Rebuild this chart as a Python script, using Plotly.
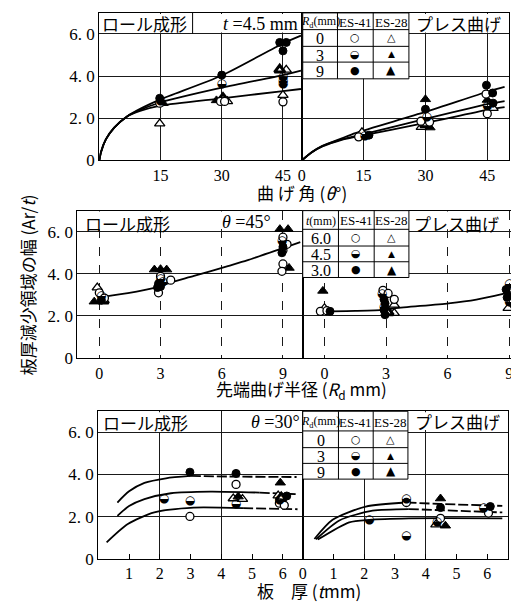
import plotly.graph_objects as go

W, H = 519, 608

# ---------------- data ----------------
# symbol codes: c0 / c3 / c9 = ES-41 (open / half / solid circle)
#               t0 / t3 / t9 = ES-28 (open / bold / solid triangle)
# rows 1 and 3: 0 / 3 / 9 = R_d (mm);  row 2: 6.0 / 4.5 / 3.0 = t (mm)

# Row 1 — bend angle θ (deg), t = 4.5 mm
roll_ang_x = [14.8, 14.8, 15.0, 15.6, 14.8, 28.7, 29.7, 30.3, 30.7, 31.4, 30.0, 30.0,
              44.2, 45.8, 45.0, 44.2, 45.8, 45.0, 45.0, 45.0, 45.0, 45.0]
roll_ang_y = [2.95, 2.72, 2.8, 2.72, 1.75, 2.85, 2.8, 2.95, 2.8, 2.8, 4.05, 3.62,
              5.6, 5.6, 5.2, 4.3, 4.3, 3.95, 3.78, 3.62, 3.1, 2.78]
roll_ang_s = ["c9", "c0", "c3", "t9", "t0", "t9", "c0", "t3", "c0", "t0", "c9", "c3",
              "c9", "c9", "c9", "t3", "t0", "c3", "c3", "c3", "t0", "c0"]

press_ang_x = [14.6, 13.8, 15.3, 16.3, 30.0, 30.0, 30.3, 28.9, 31.0, 29.0, 31.1, 30.0,
               44.8, 44.7, 46.3, 45.0, 46.4, 45.0, 46.4, 45.0]
press_ang_y = [1.33, 1.12, 1.15, 1.2, 2.9, 2.43, 2.05, 1.86, 1.82, 1.58, 1.56, 1.7,
               3.57, 3.15, 3.2, 2.87, 2.72, 2.6, 2.48, 2.22]
press_ang_s = ["t0", "c0", "c3", "c9", "t9", "c9", "c3", "c0", "c0", "t0", "t9", "t3",
               "c9", "c0", "c9", "t9", "c9", "c3", "t0", "c0"]

roll_ang_c1_x = [0, 0.4, 1.6, 3.6, 6.8, 10, 15, 30, 45, 49.4]
roll_ang_c1_y = [0, 0.39, 1.0, 1.55, 2.09, 2.45, 2.9, 4.03, 5.55, 5.92]
roll_ang_c2_x = [0, 0.4, 1.6, 3.6, 6.8, 10, 15, 30, 45, 49.4]
roll_ang_c2_y = [0, 0.39, 1.0, 1.55, 2.09, 2.4, 2.75, 3.45, 4.05, 4.26]
roll_ang_c3_x = [0, 0.4, 1.6, 3.6, 6.8, 10, 15, 30, 45, 49.4]
roll_ang_c3_y = [0, 0.39, 1.0, 1.55, 2.09, 2.35, 2.6, 2.95, 3.29, 3.39]

press_ang_c1_x = [0, 2.4, 5, 9.7, 13, 30, 45, 49.2]
press_ang_c1_y = [0, 0.39, 0.7, 1.05, 1.3, 2.3, 3.26, 3.49]
press_ang_c2_x = [0, 2.4, 5, 9.7, 13, 30, 45, 49.2]
press_ang_c2_y = [0, 0.39, 0.68, 1.0, 1.15, 1.97, 2.67, 2.82]
press_ang_c3_x = [0, 2.4, 5, 9.7, 13, 30, 45, 49.2]
press_ang_c3_y = [0, 0.38, 0.66, 0.98, 1.12, 1.78, 2.4, 2.53]

# Row 2 — tip bend radius R_d (mm), θ = 45°
roll_rd_x = [-0.1, 0.0, 0.1, -0.25, 0.1, 0.2, 0.25,
             2.7, 3.0, 3.3, 3.0, 3.0, 3.5, 2.9, 3.0, 2.85, 2.9, 3.1,
             8.85, 9.25, 9.0, 8.95, 9.2, 9.0, 9.0, 8.95, 9.0, 9.3, 8.95]
roll_rd_y = [3.35, 3.1, 2.95, 2.68, 2.75, 2.72, 2.85,
             4.2, 4.22, 4.2, 3.88, 3.77, 3.7, 3.53, 3.4, 3.35, 3.1, 3.6,
             6.12, 6.12, 5.74, 5.55, 5.4, 5.28, 5.12, 5.0, 4.47, 4.28, 4.12]
roll_rd_s = ["t0", "c0", "c3", "t9", "c9", "t3", "c0",
             "t9", "t9", "t9", "c0", "c3", "c0", "c9", "c9", "c9", "c0", "c3",
             "t9", "t9", "c0", "c3", "c0", "c9", "c0", "c9", "c0", "t9", "c0"]

press_rd_x = [-0.08, -0.2, 0.0, 0.27, 0.12,
              2.85, 3.1, 2.8, 2.9, 3.4, 2.95, 2.9, 3.4, 2.9, 3.1, 2.95, 3.4,
              9.0, 8.85, 9.0, 9.35, 8.9, 9.0, 8.95]
press_rd_y = [3.19, 2.22, 2.37, 2.22, 2.25,
              3.22, 3.07, 3.02, 2.79, 2.79, 2.6, 2.45, 2.53, 2.29, 2.17, 2.06, 2.14,
              3.5, 3.26, 3.07, 3.0, 2.88, 2.68, 2.37]
press_rd_s = ["t9", "c0", "t0", "c9", "c0",
              "c0", "c0", "c3", "c9", "c0", "c9", "c3", "t0", "c9", "t3", "c9", "t0",
              "c3", "c9", "c3", "c0", "c9", "c3", "t0"]

roll_rd_c_x = [0.25, 1.4, 2.7, 3.6, 4.64, 6.3, 7.24, 8.8, 9.85]
roll_rd_c_y = [2.92, 3.08, 3.33, 3.62, 3.9, 4.37, 4.64, 5.15, 5.5]
press_rd_c_x = [0.32, 1.5, 2.9, 3.47, 6.05, 7.4, 8.7, 9.85]
press_rd_c_y = [2.22, 2.24, 2.29, 2.37, 2.6, 2.78, 3.05, 3.33]

# Row 3 — sheet thickness t (mm), θ = 30°
roll_t_x = [2.98, 2.98, 2.98, 2.14, 4.48, 4.48, 4.39, 4.55, 4.69, 4.48,
            5.92, 6.13, 5.85, 5.95, 5.89, 5.89, 6.05]
roll_t_y = [4.11, 2.75, 2.01, 2.86, 4.05, 3.53, 2.86, 2.95, 2.83, 2.6,
            3.61, 2.98, 3.0, 2.9, 2.8, 2.64, 2.54]
roll_t_s = ["c9", "c3", "c0", "c3", "c9", "c0", "t0", "t9", "t0", "c3",
            "t9", "c9", "t0", "t3", "c3", "c0", "c0"]

press_t_x = [3.37, 3.37, 3.37, 2.16, 4.48, 4.48, 4.48, 4.37, 4.33, 4.64, 6.1, 5.88, 6.04]
press_t_y = [2.86, 2.67, 1.1, 1.85, 2.86, 2.43, 1.92, 1.76, 1.62, 1.57, 2.48, 2.39, 2.17]
press_t_s = ["c3", "c0", "c3", "c3", "t9", "c9", "c0", "c3", "t0", "t9", "c9", "c3", "c0"]

roll_t_c1_x = [0.62, 1.0, 1.5, 2.2, 3.0, 4.5, 6.45]
roll_t_c1_y = [2.67, 3.2, 3.6, 3.82, 3.93, 3.9, 3.88]
roll_t_c2_x = [0.62, 1.0, 1.5, 2.36, 3.64, 5.25, 6.48]
roll_t_c2_y = [2.04, 2.5, 2.83, 3.11, 3.19, 3.14, 3.06]
roll_t_c3_x = [0.27, 0.96, 1.82, 3.1, 4.71, 6.48]
roll_t_c3_y = [0.78, 1.65, 2.2, 2.43, 2.4, 2.35]

press_t_c1_x = [0.38, 0.97, 2.05, 3.37, 4.5, 6.49]
press_t_c1_y = [0.94, 1.85, 2.48, 2.67, 2.6, 2.51]
press_t_c2_x = [0.43, 1.19, 2.27, 3.45, 6.49]
press_t_c2_y = [0.92, 1.82, 2.28, 2.36, 2.2]
press_t_c3_x = [0.49, 1.51, 2.16, 3.45, 6.49]
press_t_c3_y = [0.91, 1.73, 1.85, 1.92, 1.92]

# ticks
x_ticks_ang_l = [15, 30, 45]
x_ticks_ang_r = [0, 15, 30, 45]
x_ticks_rd = [0, 3, 6, 9]
x_ticks_t_l = [1, 2, 3, 4, 5, 6]
x_ticks_t_r = [0, 1, 2, 3, 4, 5, 6]
y_ticks = [0, 2, 4, 6]
y_tick_text = ["0", "2. 0", "4. 0", "6. 0"]

# ---------------- figure ----------------
fig = go.Figure()

STY = {
    "c0": dict(symbol="circle", size=8, color="white", line=dict(color="black", width=1.3)),
    "c9": dict(symbol="circle", size=8, color="black", line=dict(color="black", width=1)),
    "t0": dict(symbol="triangle-up", size=9, color="white", line=dict(color="black", width=1.3)),
    "t3": dict(symbol="triangle-up", size=9, color="white", line=dict(color="black", width=3)),
    "t9": dict(symbol="triangle-up", size=9, color="black", line=dict(color="black", width=1)),
}


def add_curve(xs, ys, xa, ya, dash_from=None):
    """Solid fitted curve; optionally the tail (from index dash_from) drawn dashed."""
    if dash_from is None:
        parts = [(xs, ys, "solid")]
    else:
        parts = [(xs[:dash_from + 1], ys[:dash_from + 1], "solid"),
                 (xs[dash_from:], ys[dash_from:], "10px,3px")]
    for px, py, dash in parts:
        fig.add_trace(go.Scatter(x=px, y=py, xaxis=xa, yaxis=ya, mode="lines",
                                 line=dict(color="black", width=1.8, shape="spline",
                                           smoothing=0.7, dash=dash),
                                 showlegend=False, hoverinfo="skip"))


def add_points(xs, ys, ss, xa, ya):
    for code in ["t0", "t3", "t9", "c0", "c9", "c3"]:
        px = [x for x, s in zip(xs, ss) if s == code]
        py = [y for y, s in zip(ys, ss) if s == code]
        if not px:
            continue
        if code == "c3":
            fig.add_trace(go.Scatter(x=px, y=py, xaxis=xa, yaxis=ya, mode="text",
                                     text=["◒"] * len(px), textposition="middle center",
                                     textfont=dict(family="DejaVu Sans", size=12, color="black"),
                                     showlegend=False, hoverinfo="skip"))
        else:
            fig.add_trace(go.Scatter(x=px, y=py, xaxis=xa, yaxis=ya, mode="markers",
                                     marker=STY[code], showlegend=False, hoverinfo="skip"))


# Row 1
for cx, cy in [(roll_ang_c1_x, roll_ang_c1_y), (roll_ang_c2_x, roll_ang_c2_y), (roll_ang_c3_x, roll_ang_c3_y)]:
    add_curve(cx, cy, "x", "y")
add_points(roll_ang_x, roll_ang_y, roll_ang_s, "x", "y")
for cx, cy in [(press_ang_c1_x, press_ang_c1_y), (press_ang_c2_x, press_ang_c2_y), (press_ang_c3_x, press_ang_c3_y)]:
    add_curve(cx, cy, "x2", "y2")
add_points(press_ang_x, press_ang_y, press_ang_s, "x2", "y2")
# Row 2
add_curve(roll_rd_c_x, roll_rd_c_y, "x3", "y3")
add_points(roll_rd_x, roll_rd_y, roll_rd_s, "x3", "y3")
add_curve(press_rd_c_x, press_rd_c_y, "x4", "y4")
add_points(press_rd_x, press_rd_y, press_rd_s, "x4", "y4")
# Row 3
add_curve(roll_t_c1_x, roll_t_c1_y, "x5", "y5", dash_from=4)
add_curve(roll_t_c2_x, roll_t_c2_y, "x5", "y5", dash_from=5)
add_curve(roll_t_c3_x, roll_t_c3_y, "x5", "y5", dash_from=4)
add_points(roll_t_x, roll_t_y, roll_t_s, "x5", "y5")
add_curve(press_t_c1_x, press_t_c1_y, "x6", "y6", dash_from=3)
add_curve(press_t_c2_x, press_t_c2_y, "x6", "y6", dash_from=3)
add_curve(press_t_c3_x, press_t_c3_y, "x6", "y6")
add_points(press_t_x, press_t_y, press_t_s, "x6", "y6")


def fx(p):
    return p / W


def fy(p):
    return 1 - p / H


TICKFONT = dict(family="Liberation Serif", size=16, color="black")
GRID = "#1a1a1a"


def xaxis(dom, rng, tickvals, anchor, gridvals, griddash="solid", ticks="", ticklen=0):
    return dict(domain=[fx(dom[0]), fx(dom[1])], range=rng, anchor=anchor,
                tickmode="array", tickvals=tickvals, ticktext=[str(v) for v in tickvals],
                showline=True, mirror=True, linecolor="black", linewidth=1.4,
                zeroline=False, showgrid=False, ticks=ticks, ticklen=ticklen, tickcolor="black",
                tickfont=TICKFONT, fixedrange=True,
                minor=dict(tickmode="array", tickvals=gridvals, showgrid=True,
                           gridcolor=GRID, gridwidth=1, griddash=griddash, ticks=""))


def yaxis(dom, anchor, labels):
    return dict(domain=[fy(dom[1]), fy(dom[0])], range=[0, 7], anchor=anchor,
                tickmode="array", tickvals=y_ticks, ticktext=y_tick_text,
                showticklabels=labels, showline=True, mirror=True, linecolor="black",
                linewidth=1.4, zeroline=False, showgrid=True, gridcolor=GRID, gridwidth=1,
                ticks="", tickfont=dict(family="Liberation Serif", size=17, color="black"),
                fixedrange=True)


fig.update_layout(
    width=W, height=H, autosize=False,
    margin=dict(l=0, r=0, t=0, b=0),
    paper_bgcolor="white", plot_bgcolor="white",
    showlegend=False,
    xaxis=xaxis((88, 292), [0, 49.6], x_ticks_ang_l, "y", [15, 30, 45]),
    yaxis=yaxis((5, 155), "x", True),
    xaxis2=xaxis((292, 501), [0, 50.3], x_ticks_ang_r, "y2", [15, 30, 45]),
    yaxis2=yaxis((5, 155), "x2", False),
    xaxis3=xaxis((66, 293), [-1.07, 9.97], x_ticks_rd, "y3", [0, 3, 6, 9], "dash"),
    yaxis3=yaxis((206, 356), "x3", True),
    xaxis4=xaxis((293, 518), [-1.06, 9.82], x_ticks_rd, "y4", [0, 3, 6, 9], "dash"),
    yaxis4=yaxis((206, 356), "x4", False),
    xaxis5=xaxis((87, 293), [0, 6.65], x_ticks_t_l, "y5", [2, 4], "solid", "inside", 5),
    yaxis5=yaxis((410, 560), "x5", True),
    xaxis6=xaxis((293, 500), [0, 6.68], x_ticks_t_r, "y6", [2, 4], "solid", "inside", 5),
    yaxis6=yaxis((410, 560), "x6", False),
)

shapes = []
annotations = []


def rect(x0, y0, x1, y1, border=True):
    shapes.append(dict(type="rect", xref="paper", yref="paper",
                       x0=fx(x0), x1=fx(x1), y0=fy(y1), y1=fy(y0),
                       fillcolor="white",
                       line=dict(color="black", width=1) if border else dict(width=0),
                       layer="above"))


def seg(x0, y0, x1, y1, w=1):
    shapes.append(dict(type="line", xref="paper", yref="paper",
                       x0=fx(x0), x1=fx(x1), y0=fy(y0), y1=fy(y1),
                       line=dict(color="black", width=w), layer="above"))


def ann(text, px, py, size=15, family="Liberation Serif", xanchor="center", angle=0):
    annotations.append(dict(text=text, x=fx(px), y=fy(py), xref="paper", yref="paper",
                            showarrow=False, xanchor=xanchor, yanchor="middle",
                            textangle=angle, font=dict(family=family, size=size, color="black")))


JP = "Noto Sans CJK JP"

# panel labels (white backing)
rect(89, 6, 181, 25, False); seg(182, 5, 182, 26)
ann("ロール成形", 134, 16, 17, JP)
rect(200, 6, 290, 25, False)
ann("<i>t</i> =4.5 mm", 290, 16, 18, xanchor="right")
rect(401, 6, 499, 25, False)
ann("プレス曲げ", 450, 16, 17, JP)

rect(67, 207, 163, 225, False)
ann("ロール成形", 116, 219, 17, JP)
rect(206, 207, 265, 224, False)
ann("<i>θ</i> =45°", 236, 218, 18)
rect(401, 207, 497, 225, False)
ann("プレス曲げ", 448, 219, 17, JP)

rect(88, 411, 183, 431, False)
ann("ロール成形", 135, 421, 17, JP)
rect(240, 411, 292, 431, False)
ann("<i>θ</i> =30°", 292, 421, 18, xanchor="right")
rect(400, 411, 499, 429, False)
ann("プレス曲げ", 449, 420, 17, JP)


def table(xs, ys, header, labels):
    rect(xs[0], ys[0], xs[3], ys[4], True)
    seg(xs[1], ys[0], xs[1], ys[4])
    seg(xs[2], ys[0], xs[2], ys[4])
    for yy in ys[1:4]:
        seg(xs[0], yy, xs[3], yy)
    ax = [(xs[0] + xs[1]) / 2, (xs[1] + xs[2]) / 2, (xs[2] + xs[3]) / 2]
    hy = (ys[0] + ys[1]) / 2
    ann(header, ax[0], hy + 1, 12)
    ann("ES-41", ax[1], hy + 1, 13)
    ann("ES-28", ax[2], hy + 1, 13)
    circ = ["○", "◒", "●"]
    tri = [("△", 11), ("▲", 9), ("▲", 12)]
    for i in range(3):
        cy = (ys[i + 1] + ys[i + 2]) / 2
        ann(labels[i], ax[0], cy + 1, 16)
        ann(circ[i], ax[1], cy, 11, "DejaVu Sans")
        ann(tri[i][0], ax[2], cy, tri[i][1], "DejaVu Sans")


rd_header = "<i>R</i><sub>d</sub>(mm)"
table([293, 328, 364, 400], [5, 22, 39, 55, 72], rd_header, ["0", "3", "9"])
table([293, 329, 365, 400], [206, 225, 242, 258, 274], "<i>t</i>(mm)", ["6.0", "4.5", "3.0"])
table([293, 329, 364, 399], [410, 430, 447, 463, 479], rd_header, ["0", "3", "9"])

# axis titles
ann("曲 げ 角 (<i>θ</i>°)", 292, 188, 17, JP)
ann("先端曲げ半径 (<i>R</i><sub>d</sub> mm)", 292, 388, 17, JP)
ann("板　厚 (<i>t</i>mm)", 299, 592, 17, JP)
ann("板厚減少領域の幅 (Ar/<i>t</i>)", 15, 281, 17, JP, angle=-90)

fig.update_layout(shapes=shapes, annotations=annotations)

fig.write_html("out.html")
